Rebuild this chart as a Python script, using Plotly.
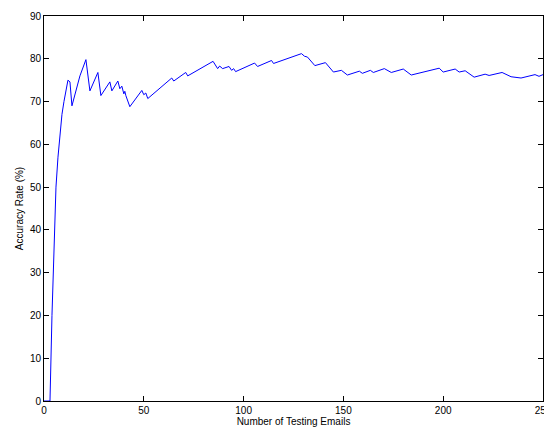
import plotly.graph_objects as go

emails = [0, 3, 4, 5, 6, 7, 8, 9, 10, 11, 12, 13, 14, 18, 21, 23, 27, 28.5, 33, 34, 37, 38, 39, 40, 40.5, 41,
          43, 49, 50, 51, 52, 64, 65, 71, 72, 84.7, 87, 88, 89.5, 92.7, 94, 95, 96, 105.5, 107, 114, 115,
          129, 130.5, 132, 133, 135.7, 141, 145, 149, 152, 158, 159.5, 163.5, 165, 170.5, 174, 180, 184,
          198, 200, 206, 208, 211, 215.5, 221, 223, 229.5, 234, 239, 246, 248, 250]
accuracy = [0, 0, 20, 38, 50, 57, 62.5, 67, 70, 72.7, 75, 74.6, 69, 76, 79.8, 72.5, 76.8, 71.4, 74.6, 72.5,
            74.8, 73, 73.6, 71.8, 72.4, 71.4, 68.8, 72.6, 71.6, 72, 70.7, 75.5, 74.8, 76.8, 76, 79.4, 77.7,
            78.3, 77.7, 78.2, 77.3, 77.7, 77, 79, 78.2, 79.6, 78.9, 81.2, 80.6, 80.4, 79.8, 78.4, 79.1, 76.9,
            77.3, 76.2, 77.1, 76.6, 77.3, 76.8, 77.7, 76.8, 77.6, 76.2, 77.8, 76.9, 77.6, 76.9, 77.2, 75.7,
            76.4, 76.1, 76.8, 75.8, 75.5, 76.3, 75.9, 76.3]

fig = go.Figure(go.Scatter(x=emails, y=accuracy, mode="lines",
                           line=dict(color="#0000ff", width=1)))

axis_style = dict(showline=True, linecolor="black", linewidth=1, mirror="ticks",
                  ticks="inside", ticklen=5, tickcolor="black", showgrid=False,
                  zeroline=False, automargin=False, tickfont=dict(size=10, color="black"))
fig.update_xaxes(range=[0, 250], dtick=50, title=dict(text="Number of Testing Emails", standoff=0,
                 font=dict(size=10, color="black")), **axis_style)
fig.update_yaxes(range=[0, 90], dtick=10, title=dict(text="Accuracy Rate (%)", standoff=4,
                 font=dict(size=10, color="black")), **axis_style)
fig.update_layout(width=552, height=431, plot_bgcolor="white", paper_bgcolor="white",
                  margin=dict(l=36, r=17, t=8, b=38), showlegend=False,
                  font=dict(family="Liberation Sans, Arial, sans-serif"))
fig.write_html("out.html")
